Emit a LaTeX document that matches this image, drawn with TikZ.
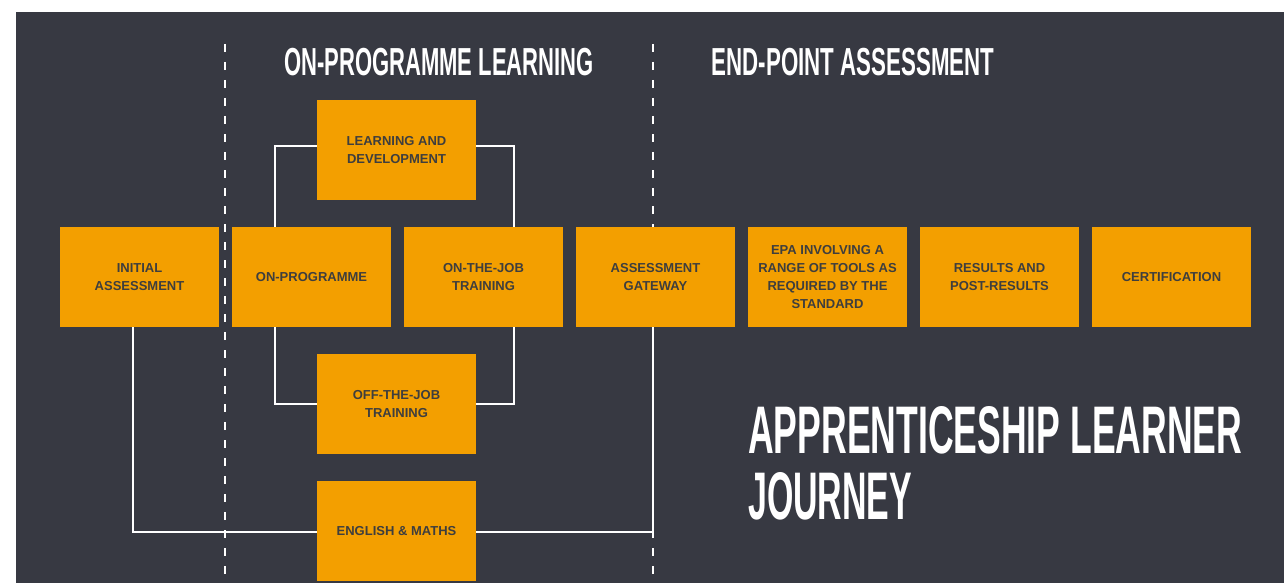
\documentclass[tikz,border=0pt]{standalone}
\usepackage{fontspec}
\usepackage{graphicx}
\setmainfont{Liberation Sans}
\newfontfamily\boxfont{Liberation Sans}
\newfontfamily\headfont{Liberation Sans}
\newcommand{\mytitle}[3]{\resizebox{#1}{#2}{\headfont\bfseries #3}}
\definecolor{bgdark}{RGB}{55,57,66}
\definecolor{boxorange}{RGB}{243,159,0}
\definecolor{boxtext}{RGB}{62,62,62}
\tikzset{
  stagebox/.style={fill=boxorange, draw=none, minimum width=159pt, minimum height=100pt,
    inner sep=0pt, align=center, text=boxtext,
    font=\boxfont\bfseries\fontsize{13}{18}\selectfont},
  conn/.style={draw=white, line width=2pt},
  divider/.style={draw=white, line width=2pt, dash pattern=on 8pt off 10pt},
  headtext/.style={anchor=base west, inner sep=0pt, text=white}
}
\begin{document}
\begin{tikzpicture}[x=1pt,y=-1pt]
\useasboundingbox (0,0) rectangle (1284,583);
\fill[white] (0,0) rectangle (1284,583);
\fill[bgdark] (16,12) rectangle (1284,583);

% dividers
\coordinate (d1top) at (225,44);
\coordinate (d1bot) at (225,583);
\coordinate (d2top) at (653,44);
\coordinate (d2bot) at (653,583);
\draw[divider] (d1top) -- (d1bot);
\draw[divider] (d2top) -- (d2bot);

% headings
\node[headtext] (hon) at (284,76) {\mytitle{309.5pt}{27.3pt}{ON-PROGRAMME LEARNING}};
\node[headtext] (hend) at (711.5,76) {\mytitle{282.5pt}{27.3pt}{END-POINT ASSESSMENT}};
\node[headtext] (big1) at (748,453.5) {\mytitle{494pt}{47pt}{APPRENTICESHIP LEARNER}};
\node[headtext] (big2) at (748,519.6) {\mytitle{164pt}{47pt}{JOURNEY}};

% boxes
\node[stagebox] (init) at (139.5,277) {INITIAL\\ASSESSMENT};
\node[stagebox] (onprog) at (311.5,277) {ON-PROGRAMME};
\node[stagebox] (otj) at (483.5,277) {ON-THE-JOB\\TRAINING};
\node[stagebox] (gate) at (655.5,277) {ASSESSMENT\\GATEWAY};
\node[stagebox] (epa) at (827.5,277) {EPA INVOLVING A\\RANGE OF TOOLS AS\\REQUIRED BY THE\\STANDARD};
\node[stagebox] (res) at (999.5,277) {RESULTS AND\\POST-RESULTS};
\node[stagebox] (cert) at (1171.5,277) {CERTIFICATION};
\node[stagebox] (learn) at (396.5,150) {LEARNING AND\\DEVELOPMENT};
\node[stagebox] (offjob) at (396.5,404) {OFF-THE-JOB\\TRAINING};
\node[stagebox] (eng) at (396.5,531) {ENGLISH \& MATHS};

% connectors
\draw[conn] ([yshift=4.5pt]learn.west) -| ([xshift=43.5pt]onprog.north west);
\draw[conn] ([yshift=4.5pt]learn.east) -| ([xshift=-49.5pt]otj.north east);
\draw[conn] ([xshift=43.5pt]onprog.south west) |- (offjob.west);
\draw[conn] ([xshift=-49.5pt]otj.south east) |- (offjob.east);
\draw[conn] ([xshift=-7pt]init.south) |- ([yshift=-1pt]eng.west);
\draw[conn] ([yshift=-1pt]eng.east) -| ([xshift=-2.5pt]gate.south);
\end{tikzpicture}
\end{document}
